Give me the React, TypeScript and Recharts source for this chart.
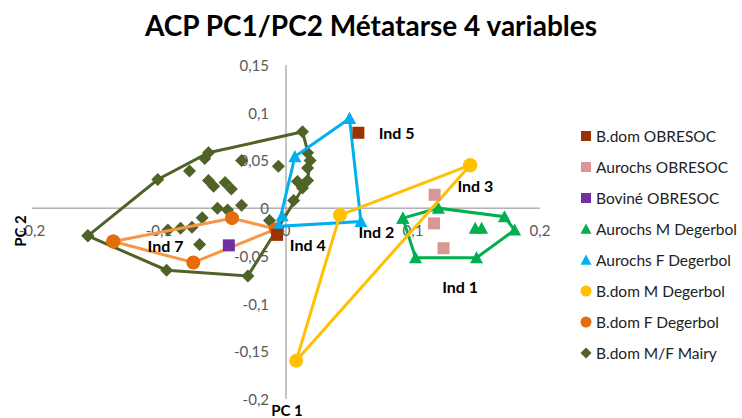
import { ScatterChart, Scatter, XAxis, YAxis, ReferenceLine } from "recharts"

type Pt = { x: number; y: number }

const xTicks = [-0.2, -0.1, 0, 0.1, 0.2]
const yTicks = [-0.2, -0.15, -0.1, -0.05, 0, 0.05, 0.1, 0.15]

// OBRESOC individuals
const bdomObresoc: Pt[] = [
  { x: 0.057, y: 0.079 },
  { x: -0.007, y: -0.028 },
]
const aurochsObresoc: Pt[] = [
  { x: 0.117, y: 0.014 },
  { x: 0.1165, y: -0.016 },
  { x: 0.124, y: -0.042 },
]
const bovineObresoc: Pt[] = [{ x: -0.045, y: -0.039 }]

// Degerbol groups: hull (closed) + points inside
const aurochsMHull: Pt[] = [
  { x: 0.092, y: -0.0105 },
  { x: 0.12, y: 0.0 },
  { x: 0.172, y: -0.009 },
  { x: 0.18, y: -0.023 },
  { x: 0.15, y: -0.052 },
  { x: 0.102, y: -0.052 },
  { x: 0.092, y: -0.0105 },
]
const aurochsMInner: Pt[] = [
  { x: 0.149, y: -0.021 },
  { x: 0.154, y: -0.021 },
]
const aurochsFHull: Pt[] = [
  { x: 0.05, y: 0.094 },
  { x: 0.059, y: -0.014 },
  { x: -0.006, y: -0.019 },
  { x: 0.007, y: 0.054 },
  { x: 0.05, y: 0.094 },
]
const aurochsFInner: Pt[] = [{ x: -0.003, y: -0.008 }]
const bdomMHull: Pt[] = [
  { x: 0.145, y: 0.045 },
  { x: 0.0425, y: -0.0073 },
  { x: 0.008, y: -0.16 },
  { x: 0.145, y: 0.045 },
]
const bdomFHull: Pt[] = [
  { x: -0.136, y: -0.035 },
  { x: -0.0425, y: -0.0105 },
  { x: -0.008, y: -0.022 },
  { x: -0.073, y: -0.057 },
  { x: -0.136, y: -0.035 },
]

// Mairy
const mairyHull: Pt[] = [
  { x: -0.156, y: -0.029 },
  { x: -0.101, y: 0.03 },
  { x: -0.061, y: 0.058 },
  { x: 0.013, y: 0.08 },
  { x: 0.019, y: 0.05 },
  { x: 0.017, y: 0.029 },
  { x: -0.03, y: -0.071 },
  { x: -0.094, y: -0.065 },
  { x: -0.156, y: -0.029 },
]
const mairyInner: Pt[] = [
  { x: -0.064, y: 0.052 },
  { x: -0.076, y: 0.039 },
  { x: -0.061, y: 0.029 },
  { x: -0.057, y: 0.023 },
  { x: -0.048, y: 0.027 },
  { x: -0.043, y: 0.02 },
  { x: -0.035, y: 0.05 },
  { x: -0.035, y: 0.003 },
  { x: -0.054, y: 0.0 },
  { x: -0.046, y: -0.002 },
  { x: -0.066, y: -0.01 },
  { x: -0.074, y: -0.02 },
  { x: -0.083, y: -0.021 },
  { x: -0.093, y: -0.023 },
  { x: -0.068, y: -0.038 },
  { x: -0.013, y: -0.013 },
  { x: -0.006, y: 0.044 },
  { x: 0.017, y: 0.058 },
  { x: 0.017, y: 0.042 },
  { x: 0.009, y: 0.028 },
  { x: 0.013, y: 0.021 },
  { x: 0.006, y: 0.008 },
]

const annotations = [
  { x: 0.073, y: 0.079, text: "Ind 5" },
  { x: 0.135, y: 0.024, text: "Ind 3" },
  { x: 0.057, y: -0.024, text: "Ind 2" },
  { x: 0.003, y: -0.038, text: "Ind 4" },
  { x: -0.109, y: -0.039, text: "Ind 7" },
  { x: 0.123, y: -0.082, text: "Ind 1" },
]

const legendItems = [
  { name: "B.dom OBRESOC", shape: "square", color: "#993300" },
  { name: "Aurochs OBRESOC", shape: "square", color: "#D99694" },
  { name: "Boviné OBRESOC", shape: "square", color: "#7030A0" },
  { name: "Aurochs M Degerbol", shape: "triangle", color: "#00B050" },
  { name: "Aurochs F Degerbol", shape: "triangle", color: "#00B0F0" },
  { name: "B.dom M Degerbol", shape: "circle", color: "#FFC000" },
  { name: "B.dom F Degerbol", shape: "circle", color: "#E46C0A" },
  { name: "B.dom M/F Mairy", shape: "diamond", color: "#4F6228" },
]

const FONT = "Lato, 'Open Sans', sans-serif"
const fmt = (v: number) => String(v).replace(".", ",")

function Marker({ shape, color, cx, cy, s }: { shape: string; color: string; cx: number; cy: number; s: number }) {
  if (shape === "square") return <rect x={cx - s / 2} y={cy - s / 2} width={s} height={s} fill={color} />
  if (shape === "circle") return <circle cx={cx} cy={cy} r={s / 2} fill={color} />
  if (shape === "diamond") {
    const h = s / 2
    return <polygon points={`${cx},${cy - h} ${cx + h},${cy} ${cx},${cy + h} ${cx - h},${cy}`} fill={color} />
  }
  const h = s / 2
  return <polygon points={`${cx},${cy - h} ${cx + h},${cy + h * 0.85} ${cx - h},${cy + h * 0.85}`} fill={color} />
}

const mk = (shape: string, color: string, s: number) => (p: any) =>
  <Marker shape={shape} color={color} cx={p.cx} cy={p.cy} s={s} />

const lineStyle = (color: string) => ({ stroke: color, strokeWidth: 3 })

function Legend() {
  return (
    <div style={{ position: "absolute", left: 579, top: 120, fontFamily: FONT, fontSize: 15.5, color: "#222" }}>
      {legendItems.map((it) => (
        <div key={it.name} style={{ height: 31, display: "flex", alignItems: "center", whiteSpace: "nowrap" }}>
          <svg width={14} height={14} style={{ marginRight: 3 }}>
            <Marker shape={it.shape} color={it.color} cx={7} cy={7} s={it.shape === "square" ? 10 : 11} />
          </svg>
          <span>{it.name}</span>
        </div>
      ))}
    </div>
  )
}

export default function App() {
  const xTickPts = xTicks.map((t) => ({ x: t, y: 0, label: fmt(t) }))
  const yTickPts = yTicks.map((t) => ({ x: 0, y: t, label: fmt(t) }))
  return (
    <div style={{ position: "absolute", left: 0, top: 0, width: 742, height: 418, background: "#fff" }}>
      <div
        style={{
          position: "absolute",
          left: 0,
          width: 742,
          top: 8,
          textAlign: "center",
          fontFamily: FONT,
          fontWeight: 700,
          fontSize: 28,
          color: "#000",
        }}
      >
        ACP PC1/PC2 Métatarse 4 variables
      </div>
      <ScatterChart width={742} height={418} margin={{ top: 65, right: 202, bottom: 19, left: 32 }}>
        <XAxis type="number" dataKey="x" domain={[-0.2, 0.2]} hide />
        <YAxis type="number" dataKey="y" domain={[-0.2, 0.15]} hide />
        <ReferenceLine x={0} stroke="#898989" strokeWidth={1} />
        <ReferenceLine y={0} stroke="#898989" strokeWidth={1} />

        <Scatter
          data={xTickPts}
          isAnimationActive={false}
          legendType="none"
          shape={(p: any) => (
            <text x={p.cx} y={p.cy + 22} textAnchor="middle" dominantBaseline="central" fontFamily={FONT} fontSize={15} fill="#595959">
              {p.payload.label}
            </text>
          )}
        />
        <Scatter
          data={yTickPts}
          isAnimationActive={false}
          legendType="none"
          shape={(p: any) => (
            <text x={p.cx - 17} y={p.cy} textAnchor="end" dominantBaseline="central" fontFamily={FONT} fontSize={15} fill="#595959">
              {p.payload.label}
            </text>
          )}
        />

        <Scatter data={mairyHull} line={lineStyle("#4F6228")} shape={mk("diamond", "#4F6228", 13)} isAnimationActive={false} />
        <Scatter data={mairyInner} shape={mk("diamond", "#4F6228", 13)} isAnimationActive={false} />
        <Scatter data={bdomFHull} line={lineStyle("#F79646")} shape={mk("circle", "#E46C0A", 14)} isAnimationActive={false} />
        <Scatter data={aurochsFHull} line={lineStyle("#00B0F0")} shape={mk("triangle", "#00B0F0", 13)} isAnimationActive={false} />
        <Scatter data={aurochsFInner} shape={mk("triangle", "#00B0F0", 13)} isAnimationActive={false} />
        <Scatter data={aurochsMHull} line={lineStyle("#00B050")} shape={mk("triangle", "#00B050", 13)} isAnimationActive={false} />
        <Scatter data={aurochsMInner} shape={mk("triangle", "#00B050", 13)} isAnimationActive={false} />
        <Scatter data={bdomMHull} line={lineStyle("#FFC000")} shape={mk("circle", "#FFC000", 14)} isAnimationActive={false} />
        <Scatter data={aurochsObresoc} shape={mk("square", "#D99694", 12)} isAnimationActive={false} />
        <Scatter data={bovineObresoc} shape={mk("square", "#7030A0", 12)} isAnimationActive={false} />
        <Scatter data={bdomObresoc} shape={mk("square", "#993300", 12)} isAnimationActive={false} />

        <Scatter
          data={annotations}
          isAnimationActive={false}
          legendType="none"
          shape={(p: any) => (
            <text x={p.cx} y={p.cy} dominantBaseline="central" fontFamily={FONT} fontWeight={700} fontSize={16} fill="#000">
              {p.payload.text}
            </text>
          )}
        />
      </ScatterChart>
      <Legend />
      <div
        style={{
          position: "absolute",
          left: 287,
          top: 410,
          transform: "translate(-50%, -50%)",
          fontFamily: FONT,
          fontWeight: 700,
          fontSize: 15,
          whiteSpace: "nowrap",
        }}
      >
        PC 1
      </div>
      <div
        style={{
          position: "absolute",
          left: 20,
          top: 231,
          transform: "translate(-50%, -50%) rotate(-90deg)",
          fontFamily: FONT,
          fontWeight: 700,
          fontSize: 15,
          whiteSpace: "nowrap",
        }}
      >
        PC 2
      </div>
    </div>
  )
}
